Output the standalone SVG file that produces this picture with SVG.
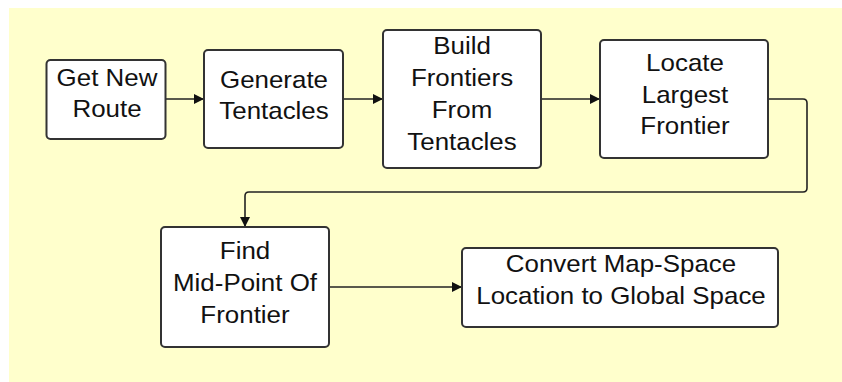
<svg xmlns="http://www.w3.org/2000/svg" width="842" height="382" viewBox="0 0 842 382">
  <defs>
    <marker id="arr" viewBox="0 0 10 10" refX="10" refY="5" markerWidth="13" markerHeight="10" markerUnits="userSpaceOnUse" orient="auto">
      <path d="M0,0 L10,5 L0,10 Z" fill="#111"/>
    </marker>
    <style>
      .box { fill: #ffffff; stroke: #333333; stroke-width: 2; }
      .lbl { font-family: "Liberation Sans", Arial, sans-serif; font-size: 24px; fill: #111111; text-anchor: middle; }
      .conn { fill: none; stroke: #222222; stroke-width: 1.6; }
    </style>
  </defs>
  <rect x="0" y="0" width="842" height="382" fill="#ffffff"/>
  <rect x="9" y="8" width="833" height="374" fill="#ffffcc"/>

  <g id="connectors">
    <path class="conn" d="M166,99 H204" marker-end="url(#arr)"/>
    <path class="conn" d="M343,99 H383" marker-end="url(#arr)"/>
    <path class="conn" d="M541,99 H600" marker-end="url(#arr)"/>
    <path class="conn" d="M768,99 H803 Q807,99 807,103 V188 Q807,192 803,192 H249 Q245,192 245,196 V227" marker-end="url(#arr)"/>
    <path class="conn" d="M329,287 H462" marker-end="url(#arr)"/>
  </g>

  <g id="node-get-new-route">
    <rect class="box" x="46.5" y="60" width="119" height="79" rx="4"/>
    <text class="lbl" transform="translate(107 0) scale(1.08 1)" x="0" y="86">Get New</text>
    <text class="lbl" transform="translate(107 0) scale(1.08 1)" x="0" y="117">Route</text>
  </g>

  <g id="node-generate-tentacles">
    <rect class="box" x="204" y="50" width="139" height="98" rx="4"/>
    <text class="lbl" transform="translate(274 0) scale(1.08 1)" x="0" y="88">Generate</text>
    <text class="lbl" transform="translate(274 0) scale(1.08 1)" x="0" y="119">Tentacles</text>
  </g>

  <g id="node-build-frontiers">
    <rect class="box" x="383" y="30" width="158" height="138" rx="4"/>
    <text class="lbl" transform="translate(462 0) scale(1.08 1)" x="0" y="54">Build</text>
    <text class="lbl" transform="translate(462 0) scale(1.08 1)" x="0" y="86">Frontiers</text>
    <text class="lbl" transform="translate(462 0) scale(1.08 1)" x="0" y="118">From</text>
    <text class="lbl" transform="translate(462 0) scale(1.08 1)" x="0" y="150">Tentacles</text>
  </g>

  <g id="node-locate-largest-frontier">
    <rect class="box" x="600" y="40" width="168" height="118" rx="4"/>
    <text class="lbl" transform="translate(685 0) scale(1.08 1)" x="0" y="71">Locate</text>
    <text class="lbl" transform="translate(685 0) scale(1.08 1)" x="0" y="103">Largest</text>
    <text class="lbl" transform="translate(685 0) scale(1.08 1)" x="0" y="134">Frontier</text>
  </g>

  <g id="node-find-mid-point">
    <rect class="box" x="161" y="227" width="168" height="120" rx="4"/>
    <text class="lbl" transform="translate(245 0) scale(1.08 1)" x="0" y="259">Find</text>
    <text class="lbl" transform="translate(245 0) scale(1.08 1)" x="0" y="291">Mid-Point Of</text>
    <text class="lbl" transform="translate(245 0) scale(1.08 1)" x="0" y="323">Frontier</text>
  </g>

  <g id="node-convert-location">
    <rect class="box" x="462" y="248" width="316" height="79" rx="4"/>
    <text class="lbl" transform="translate(621 0) scale(1.08 1)" x="0" y="272">Convert Map-Space</text>
    <text class="lbl" transform="translate(621 0) scale(1.08 1)" x="0" y="304">Location to Global Space</text>
  </g>
</svg>
